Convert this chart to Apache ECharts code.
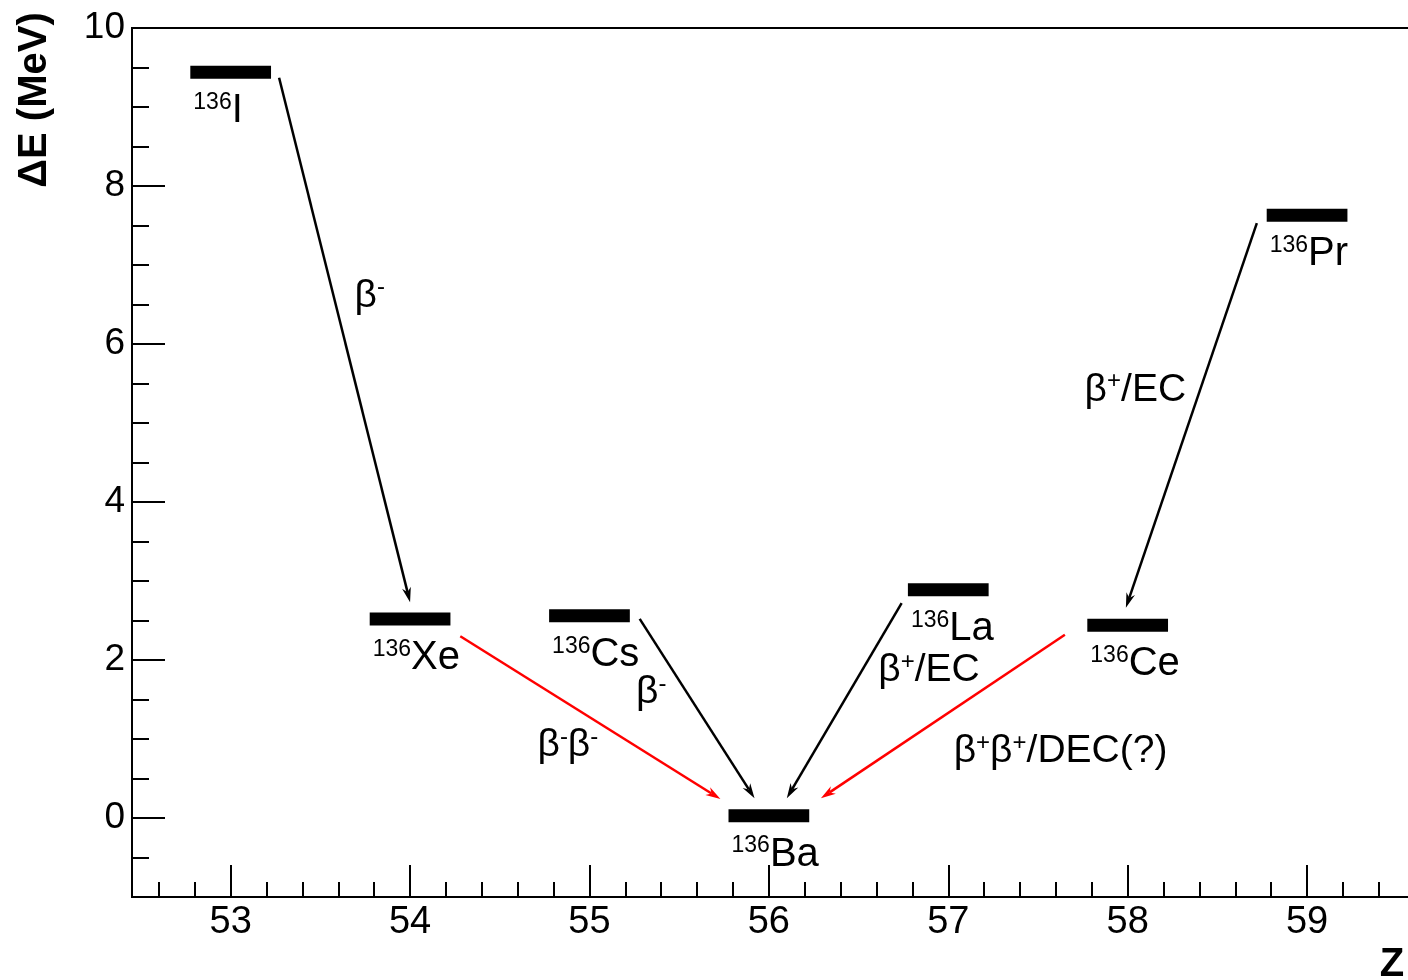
<!DOCTYPE html>
<html><head><meta charset="utf-8">
<script src="https://cdn.jsdelivr.net/npm/echarts@6/dist/echarts.min.js"></script>
<style>html,body{margin:0;padding:0;background:#fff}#c{width:1408px;height:980px}</style>
</head><body><div id="c"></div>
<script>
// ---- data ----
const massNumber = '136';
const nuclides = ['I', 'Xe', 'Cs', 'Ba', 'La', 'Ce', 'Pr'];
const protonNumber = [53, 54, 55, 56, 57, 58, 59];
const deltaE = [9.44, 2.52, 2.56, 0.03, 2.89, 2.44, 7.63];

// transitions (arrows): start/end in (Z, MeV)
const arrowFromZ = [53.27, 54.28, 55.28, 56.74, 57.65, 58.72];
const arrowFromE = [9.37, 2.30, 2.52, 2.72, 2.32, 7.53];
const arrowToZ   = [54.00, 55.73, 55.92, 56.10, 56.29, 57.99];
const arrowToE   = [2.73, 0.24, 0.25, 0.25, 0.25, 2.66];
const arrowIsDouble = [0, 1, 0, 0, 1, 0];

// decay-mode annotations
const decayText = ['β-', 'β-β-', 'β-', 'β+/EC', 'β+/EC', 'β+β+/DEC(?)'];
const decayZ = [53.69, 54.71, 55.26, 56.61, 57.76, 57.03];
const decayE = [6.61, 0.92, 1.59, 1.87, 5.42, 0.84];

const xTickLabels = ['53', '54', '55', '56', '57', '58', '59'];
const yTickLabels = ['0', '2', '4', '6', '8', '10'];

// ---- styles ----
const FONT = 'Liberation Sans, Arial, Helvetica, sans-serif';
const levelHalfWidth = 0.225;
const xMin = 52.45, xMax = 59.7, yMin = -1, yMax = 10;
const pxPerZ = 179.4;

function toRich(t) {
  return t.split(/([+-])/).filter(s => s.length).map(s => (s === '+' || s === '-') ? '{s|' + s + '}' : '{b|' + s + '}').join('');
}

const chart = echarts.init(document.getElementById('c'), null, {renderer: 'canvas'});

const option = {
  animation: false,
  backgroundColor: '#fff',
  grid: {
    show: true, borderColor: '#000', borderWidth: 2,
    outerBoundsMode: 'none', containLabel: false,
    left: 132, top: 28, width: (xMax - xMin) * pxPerZ, height: 869
  },
  xAxis: {
    type: 'value', min: xMin, max: xMax, minInterval: 1, maxInterval: 1, splitNumber: 7,
    axisLine: {onZero: false, lineStyle: {color: '#000', width: 2}},
    axisTick: {inside: true, length: 32, lineStyle: {color: '#000', width: 2}},
    minorTick: {show: true, splitNumber: 5, length: 15, lineStyle: {color: '#000', width: 2}},
    splitLine: {show: false},
    axisLabel: {
      color: '#000', fontSize: 38, fontFamily: FONT, margin: 7,
      showMinLabel: false, showMaxLabel: false,
      formatter: v => { const r = Math.round(v); return Math.abs(v - r) < 1e-6 && xTickLabels.includes(String(r)) ? String(r) : ''; }
    }
  },
  yAxis: {
    type: 'value', min: yMin, max: yMax, minInterval: 2, maxInterval: 2, splitNumber: 5,
    axisLine: {onZero: false, lineStyle: {color: '#000', width: 2}},
    axisTick: {inside: true, length: 33, lineStyle: {color: '#000', width: 2}},
    minorTick: {show: true, splitNumber: 4, length: 17, lineStyle: {color: '#000', width: 2}},
    splitLine: {show: false},
    axisLabel: {
      color: '#000', fontSize: 37, fontFamily: FONT, margin: 7,
      formatter: v => { const r = Math.round(v); return Math.abs(v - r) < 1e-6 && yTickLabels.includes(String(r)) ? String(r) : ''; }
    }
  },
  graphic: [
    {type: 'text', x: 35, y: 100, rotation: Math.PI / 2,
     style: {text: 'ΔE (MeV)', font: 'bold 40px ' + FONT, fill: '#000', align: 'center', verticalAlign: 'middle'}},
    {type: 'text', x: 1392, y: 965,
     style: {text: 'Z', font: 'bold 40px ' + FONT, fill: '#000', align: 'center', verticalAlign: 'middle'}}
  ],
  series: [
    {
      type: 'custom', name: 'levels',
      encode: {x: 0, y: 1},
      data: protonNumber.map((z, i) => [z, deltaE[i]]),
      renderItem: (params, api) => {
        const z = api.value(0), e = api.value(1);
        const a = api.coord([z - levelHalfWidth, e]);
        const b = api.coord([z + levelHalfWidth, e]);
        return {type: 'group', children: [
          {type: 'rect', shape: {x: a[0], y: a[1] - 6.5, width: b[0] - a[0], height: 13}, style: {fill: '#000'}},
          {type: 'text', x: a[0] + 3, y: a[1] + 39, style: {
            text: '{sup|' + massNumber + '}{el|' + nuclides[params.dataIndex] + '}',
            align: 'left', verticalAlign: 'middle',
            rich: {
              sup: {fontSize: 23, lineHeight: 23, fontFamily: FONT, fill: '#000', verticalAlign: 'top'},
              el: {fontSize: 40, lineHeight: 40, fontFamily: FONT, fill: '#000'}
            }
          }}
        ]};
      }
    },
    {
      type: 'custom', name: 'transitions',
      encode: {x: [0, 2], y: [1, 3]},
      data: arrowFromZ.map((z, i) => [z, arrowFromE[i], arrowToZ[i], arrowToE[i], arrowIsDouble[i]]),
      renderItem: (params, api) => {
        const p1 = api.coord([api.value(0), api.value(1)]);
        const p2 = api.coord([api.value(2), api.value(3)]);
        const col = api.value(4) ? '#ff0000' : '#000';
        const dx = p2[0] - p1[0], dy = p2[1] - p1[1], len = Math.hypot(dx, dy);
        const ux = dx / len, uy = dy / len, nx = -uy, ny = ux;
        const L = 15, W = 4.5;
        const bx = p2[0] - ux * L, by = p2[1] - uy * L;
        const mx = p2[0] - ux * L * 0.7, my = p2[1] - uy * L * 0.7;
        return {type: 'group', children: [
          {type: 'line', shape: {x1: p1[0], y1: p1[1], x2: mx, y2: my}, style: {stroke: col, lineWidth: 2.5}},
          {type: 'polygon', shape: {points: [[p2[0], p2[1]], [bx + nx * W, by + ny * W], [mx, my], [bx - nx * W, by - ny * W]]}, style: {fill: col}}
        ]};
      }
    },
    {
      type: 'custom', name: 'decay labels',
      encode: {x: 0, y: 1},
      data: decayZ.map((z, i) => [z, decayE[i]]),
      renderItem: (params, api) => {
        const p = api.coord([api.value(0), api.value(1)]);
        return {type: 'text', x: p[0], y: p[1], style: {
          text: toRich(decayText[params.dataIndex]),
          align: 'left', verticalAlign: 'middle',
          rich: {
            b: {fontSize: 39, lineHeight: 40, fontFamily: FONT, fill: '#000'},
            s: {fontSize: 24, lineHeight: 24, fontFamily: FONT, fill: '#000', verticalAlign: 'top'}
          }
        }};
      }
    }
  ]
};
chart.setOption(option);
</script>
</body></html>
